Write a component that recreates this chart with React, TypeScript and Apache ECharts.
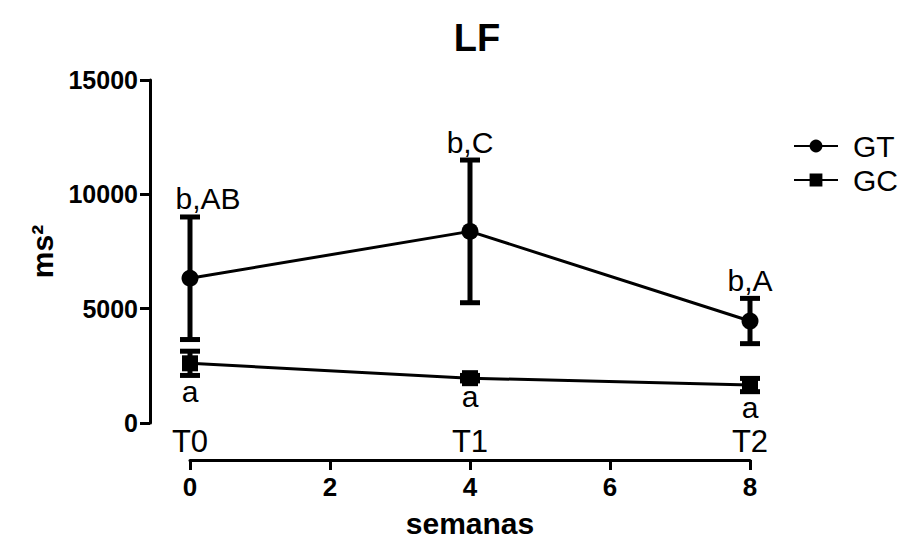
import React, { useEffect, useRef } from "react";
import * as echarts from "echarts";

const weeks = [0, 4, 8];
const timeLabels = ["T0", "T1", "T2"];
const gtMean = [6330, 8380, 4460];
const gtErr = [2680, 3120, 990];
const gcMean = [2610, 1960, 1660];
const gcErr = [530, 120, 290];
const gtLetters = ["b,AB", "b,C", "b,A"];
const gcLetters = ["a", "a", "a"];
const yTicks = [0, 5000, 10000, 15000];

// horizontal nudge (px) of the GT letter labels, as placed in the original figure
const gtLetterShift = [18, 0, 0];

const FONT = "Liberation Sans";

function errData(mean: number[], err: number[]) {
  return weeks.map((w, i) => [w, mean[i] - err[i], mean[i] + err[i]]);
}

export default function App() {
  const ref = useRef<HTMLDivElement>(null);
  useEffect(() => {
    if (!ref.current) return;
    document.body.style.margin = "0";
    const chart = echarts.init(ref.current, null, { renderer: "svg" });

    const errRender = (lw: number) => (params: any, api: any) => {
      const x = api.value(0);
      const top = api.coord([x, api.value(2)]);
      const bot = api.coord([x, api.value(1)]);
      const hw = 10;
      const style = { stroke: "#000", lineWidth: lw };
      return {
        type: "group",
        children: [
          { type: "line", shape: { x1: top[0], y1: top[1], x2: bot[0], y2: bot[1] }, style },
          { type: "line", shape: { x1: top[0] - hw, y1: top[1], x2: top[0] + hw, y2: top[1] }, style },
          { type: "line", shape: { x1: bot[0] - hw, y1: bot[1], x2: bot[0] + hw, y2: bot[1] }, style },
        ],
      };
    };

    const letterRender = (letters: string[], above: boolean, shift: number[]) => (params: any, api: any) => {
      const p = api.coord([api.value(0), api.value(1)]);
      return {
        type: "text",
        x: p[0] + shift[params.dataIndex],
        y: above ? p[1] - 3 : p[1] + 1,
        style: {
          text: letters[params.dataIndex],
          fill: "#000",
          font: `30px "${FONT}"`,
          align: "center",
          verticalAlign: above ? "bottom" : "top",
        },
      };
    };

    chart.setOption({
      animation: false,
      backgroundColor: "#fff",
      textStyle: { fontFamily: FONT },
      title: {
        text: "LF",
        left: 472,
        top: 14,
        textAlign: "center",
        textStyle: { fontSize: 38, fontWeight: "bold", color: "#000", fontFamily: FONT },
      },
      legend: {
        data: ["GT", "GC"],
        orient: "vertical",
        left: 788,
        top: 126,
        itemWidth: 44,
        itemHeight: 16,
        itemGap: 4,
        textStyle: { fontSize: 30, color: "#000", fontFamily: FONT, padding: [0, 0, 0, 10] },
      },
      grid: { left: 190, right: 160, top: 80, bottom: 121 },
      xAxis: [
        {
          type: "value",
          min: 0,
          max: 8,
          interval: 2,
          position: "bottom",
          offset: 37,
          name: "semanas",
          nameLocation: "middle",
          nameGap: 48,
          nameTextStyle: { fontSize: 30, fontWeight: "bold", color: "#000", fontFamily: FONT },
          axisLine: { show: true, onZero: false, lineStyle: { color: "#000", width: 3 } },
          axisTick: { show: true, length: 10, lineStyle: { color: "#000", width: 3 } },
          axisLabel: { fontSize: 26, fontWeight: "bold", color: "#000", margin: 14, fontFamily: FONT },
          splitLine: { show: false },
        },
        {
          type: "value",
          min: 0,
          max: 8,
          interval: 4,
          position: "bottom",
          offset: 37,
          axisLine: { show: false, onZero: false },
          axisTick: { show: false },
          splitLine: { show: false },
          axisLabel: {
            inside: true,
            margin: 3,
            fontSize: 31,
            color: "#000",
            fontFamily: FONT,
            formatter: (v: number) => {
              const i = weeks.indexOf(v);
              return i >= 0 ? timeLabels[i] : "";
            },
          },
        },
      ],
      yAxis: {
        type: "value",
        min: yTicks[0],
        max: yTicks[yTicks.length - 1],
        interval: yTicks[1] - yTicks[0],
        offset: 40,
        name: "ms²",
        nameLocation: "middle",
        nameGap: 88,
        nameRotate: 90,
        nameTextStyle: { fontSize: 30, fontWeight: "bold", color: "#000", fontFamily: FONT },
        axisLine: { show: true, onZero: false, lineStyle: { color: "#000", width: 3 } },
        axisTick: { show: true, length: 10, lineStyle: { color: "#000", width: 3 } },
        axisLabel: {
          fontSize: 25,
          fontWeight: "bold",
          color: "#000",
          margin: 12,
          fontFamily: FONT,
          formatter: (v: number) => String(v),
        },
        splitLine: { show: false },
      },
      series: [
        {
          type: "custom",
          name: "GT err",
          renderItem: errRender(5),
          data: errData(gtMean, gtErr),
          z: 2,
        },
        {
          type: "custom",
          name: "GC err",
          renderItem: errRender(5),
          data: errData(gcMean, gcErr),
          z: 2,
        },
        {
          type: "line",
          name: "GT",
          data: weeks.map((w, i) => [w, gtMean[i]]),
          symbol: "circle",
          symbolSize: 17,
          itemStyle: { color: "#000" },
          lineStyle: { color: "#000", width: 3 },
          z: 3,
        },
        {
          type: "line",
          name: "GC",
          data: weeks.map((w, i) => [w, gcMean[i]]),
          symbol: "rect",
          symbolSize: 16,
          itemStyle: { color: "#000" },
          lineStyle: { color: "#000", width: 3 },
          z: 3,
        },
        {
          type: "custom",
          name: "GT letters",
          renderItem: letterRender(gtLetters, true, gtLetterShift),
          data: weeks.map((w, i) => [w, gtMean[i] + gtErr[i]]),
          z: 4,
        },
        {
          type: "custom",
          name: "GC letters",
          renderItem: letterRender(gcLetters, false, [0, 0, 0]),
          data: weeks.map((w, i) => [w, gcMean[i] - gcErr[i]]),
          z: 4,
        },
      ],
    });
    return () => chart.dispose();
  }, []);
  return <div ref={ref} style={{ width: 910, height: 544 }} />;
}
